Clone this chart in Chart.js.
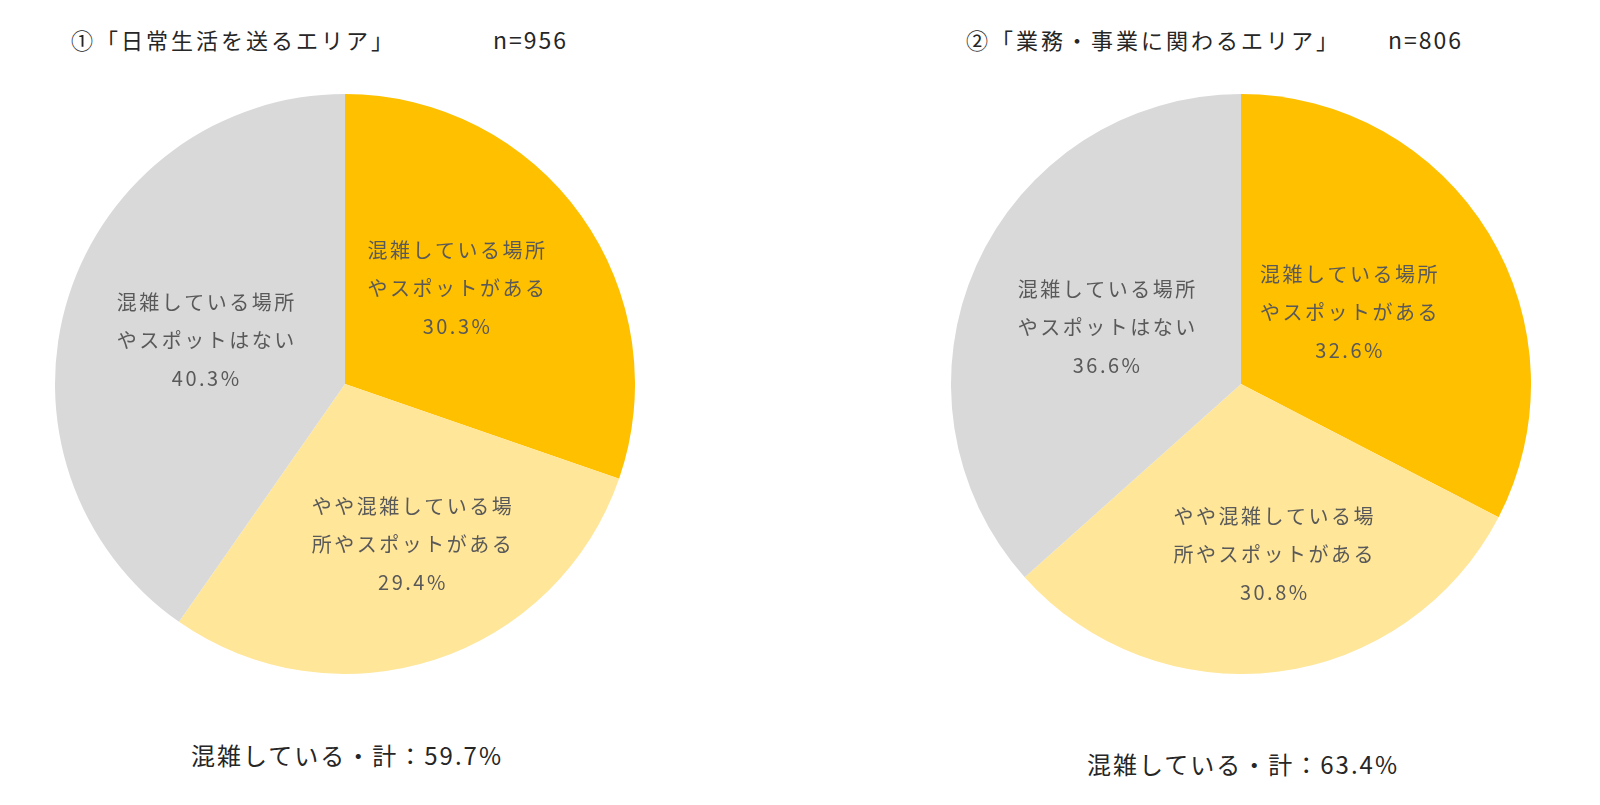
<!DOCTYPE html>
<html>
<head>
<meta charset="utf-8">
<script src="https://cdn.jsdelivr.net/npm/chart.js@4.4.1/dist/chart.umd.min.js"></script>
<style>
  body { margin: 0; background: #fff; width: 1600px; height: 805px; position: relative; overflow: hidden;
         font-family: "Noto Sans CJK JP", "Noto Sans", sans-serif; color: #262626; }
  .t { position: absolute; white-space: nowrap; }
  .title { font-size: 22px; letter-spacing: 3px; line-height: 1; }
  .total { font-size: 24px; letter-spacing: 2px; line-height: 1; }
  .box { position: absolute; width: 580px; height: 580px; }
</style>
</head>
<body>
<div class="t title" style="left:71px; top:28px;">①「日常生活を送るエリア」</div>
<div class="t title" style="left:493px; top:28px; font-size:23px; letter-spacing:2px;">n=956</div>
<div class="t title" style="left:966px; top:28px;">②「業務・事業に関わるエリア」</div>
<div class="t title" style="left:1388px; top:28px; font-size:23px; letter-spacing:2px;">n=806</div>
<div class="t total" style="left:191px; top:743px;">混雑している・計：59.7%</div>
<div class="t total" style="left:1087px; top:752px;">混雑している・計：63.4%</div>

<div class="box" style="left:55px; top:94px;"><canvas id="pie1"></canvas></div>
<div class="box" style="left:951px; top:94px;"><canvas id="pie2"></canvas></div>

<script>
const categories = [
  ['混雑している場所', 'やスポットがある'],
  ['やや混雑している場', '所やスポットがある'],
  ['混雑している場所', 'やスポットはない']
];
const area1Values = [30.3, 29.4, 40.3];
const area2Values = [32.6, 30.8, 36.6];
const sliceColors = ['#FFC000', '#FFE699', '#D9D9D9'];

// draws the category + % inside each slice
const sliceLabels = {
  id: 'sliceLabels',
  afterDatasetsDraw(chart, args, opts) {
    const ctx = chart.ctx;
    const meta = chart.getDatasetMeta(0);
    const vals = chart.data.datasets[0].data;
    ctx.save();
    ctx.font = '20px "Noto Sans CJK JP"';
    ctx.letterSpacing = '2.5px';
    ctx.fillStyle = '#595959';
    ctx.textAlign = 'center';
    ctx.textBaseline = 'middle';
    meta.data.forEach((arc, i) => {
      const p = arc.getProps(['x', 'y', 'startAngle', 'endAngle', 'outerRadius'], true);
      const mid = (p.startAngle + p.endAngle) / 2 + opts.shift[i] * Math.PI / 180;
      const r = p.outerRadius * opts.radius[i];
      const cx = p.x + Math.cos(mid) * r;
      const cy = p.y + Math.sin(mid) * r;
      const lines = chart.data.labels[i].concat([vals[i].toFixed(1) + '%']);
      lines.forEach((s, k) => {
        ctx.fillText(s, cx, cy + (k - 1) * 38);
      });
    });
    ctx.restore();
  }
};

function makePie(id, values, radius, shift) {
  new Chart(document.getElementById(id), {
    type: 'pie',
    data: {
      labels: categories,
      datasets: [{
        data: values,
        backgroundColor: sliceColors,
        borderWidth: 0
      }]
    },
    options: {
      responsive: true,
      maintainAspectRatio: false,
      animation: false,
      events: [],
      layout: { padding: 0 },
      plugins: {
        legend: { display: false },
        title: { display: false },
        tooltip: { enabled: false },
        sliceLabels: { radius: radius, shift: shift }
      }
    },
    plugins: [sliceLabels]
  });
}

makePie('pie1', area1Values, [0.51, 0.6, 0.5], [-5, -5, 0]);
makePie('pie2', area2Values, [0.45, 0.6, 0.5], [-2, -4, -1]);
</script>
</body>
</html>
